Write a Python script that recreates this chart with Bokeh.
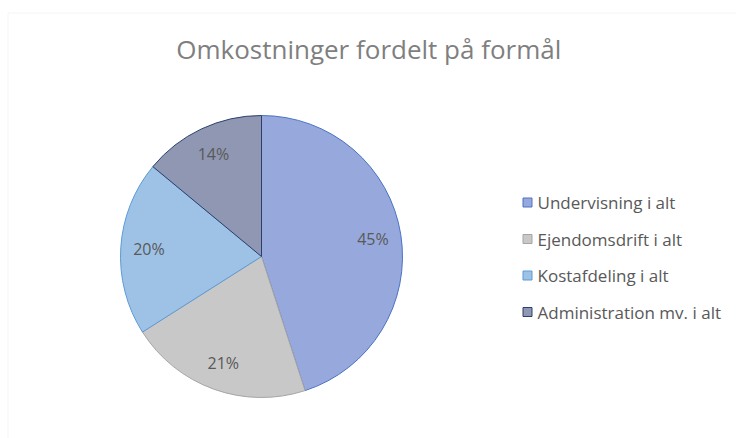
import math
from bokeh.plotting import figure
from bokeh.models import Range1d, ColumnDataSource, BoxAnnotation
from bokeh.core.properties import value
from bokeh.embed import file_html
from bokeh.resources import INLINE

# ---- data ----
title_text = "Omkostninger  fordelt  på formål"
categories = ["Undervisning i alt", "Ejendomsdrift i alt", "Kostafdeling i alt", "Administration mv. i alt"]
shares = [45, 21, 20, 14]
fill_colors = ["#97a9dc", "#c8c8c8", "#9ec2e6", "#8f97b2"]
line_colors = ["#4a72c4", "#a5a5a5", "#5b9bd5", "#2b3f6e"]

W, H = 736, 438
FONT = "Open Sans"
TEXT_COLOR = "#595959"

def py(y):  # pixel-from-top -> data y
    return H - y

cx, cy, r = 261, py(256), 141

total = sum(shares)
starts, ends, lx, ly, labels = [], [], [], [], []
cum = 0.0
for s in shares:
    a0 = math.pi / 2 - 2 * math.pi * cum / total
    cum += s
    a1 = math.pi / 2 - 2 * math.pi * cum / total
    starts.append(a0)
    ends.append(a1)
    mid = (a0 + a1) / 2
    lx.append(cx + 0.8 * r * math.cos(mid))
    ly.append(cy + 0.8 * r * math.sin(mid))
    labels.append(f"{round(100 * s / total)}%")

src = ColumnDataSource(dict(cat=categories, share=shares, start=starts, end=ends,
                            fill=fill_colors, line=line_colors, lx=lx, ly=ly, lab=labels))

p = figure(width=W, height=H, output_backend="svg", toolbar_location=None,
           x_range=Range1d(0, W), y_range=Range1d(0, H), min_border=0)
p.axis.visible = False
p.grid.visible = False
p.outline_line_color = None
p.background_fill_color = "white"
p.border_fill_color = "white"

# chart-area frame (partially visible)
p.add_layout(BoxAnnotation(left=7.5, right=W + 20, top=py(12.5), bottom=-20,
                           fill_color=None, line_color="#d9d9d9", line_width=1))

p.wedge(x=cx, y=cy, radius=r, start_angle="start", end_angle="end", direction="clock",
        fill_color="fill", line_color="line", line_width=1, source=src)

p.text(x="lx", y="ly", text="lab", source=src, text_font=value(FONT),
       text_font_size="16px", text_color=TEXT_COLOR, text_align="center",
       text_baseline="middle")

# title
p.text(x=[375], y=[py(48)], text=[title_text], text_font=value(FONT),
       text_font_size="26px", text_color="#7f7f7f", text_align="center",
       text_baseline="middle")

# legend (manual)
leg_y = [py(202 + i * 36.5) for i in range(len(categories))]
leg_src = ColumnDataSource(dict(x=[527] * len(categories), tx=[537] * len(categories),
                                y=leg_y, cat=categories, fill=fill_colors, line=line_colors))
p.scatter(x="x", y="y", marker="square", size=9, fill_color="fill", line_color="line",
          line_width=1, source=leg_src)
p.text(x="tx", y="y", text="cat", source=leg_src, text_font=value(FONT),
       text_font_size="17px", text_color=TEXT_COLOR, text_align="left",
       text_baseline="middle")

open("out.html", "w").write(file_html(p, INLINE))
